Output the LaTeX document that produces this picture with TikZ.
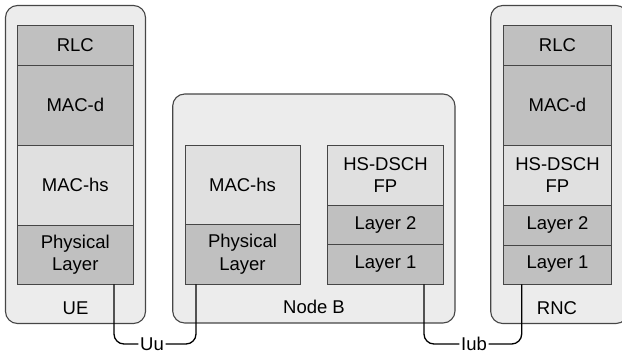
\documentclass[tikz,border=0pt]{standalone}
\usepackage{fontspec}
\setmainfont{Liberation Sans}
\definecolor{outerfill}{RGB}{236,236,236}
\definecolor{darklay}{RGB}{192,192,192}
\definecolor{lightlay}{RGB}{224,224,224}
\definecolor{edgecol}{RGB}{70,70,70}
\tikzset{
  outerbox/.style={draw=edgecol, fill=outerfill, line width=1.1pt, rounded corners=12pt, inner sep=0pt},
  lay/.style={draw=edgecol, line width=0.9pt, inner sep=0pt, align=center, text=black},
  dark/.style={lay, fill=darklay},
  light/.style={lay, fill=lightlay},
  lbl/.style={inner sep=0pt, text=black},
  ifl/.style={inner sep=1.5pt, text=black, fill=white},
  conn/.style={draw=black, line width=1.3pt, rounded corners=10pt}
}
\begin{document}
\begin{tikzpicture}[x=1pt, y=-1pt, font=\fontsize{18.5}{22.3}\selectfont]
\useasboundingbox (0,0) rectangle (622,354);
\clip (0,0) rectangle (622,354);
% outer boxes
\node[outerbox, minimum width=140pt, minimum height=318pt] (ue) at (75.5,164.5) {};
\node[outerbox, minimum width=282.3pt, minimum height=229pt] (nb) at (313.85,208.5) {};
\node[outerbox, minimum width=137.3pt, minimum height=318pt] (rnc) at (559.35,164.5) {};
% UE stack
\node[dark, minimum width=116pt, minimum height=39.5pt] (uerlc) at (75.3,45.25) {RLC};
\node[dark, minimum width=116pt, minimum height=80pt] (uemacd) at (75.3,105) {MAC-d};
\node[light, minimum width=116pt, minimum height=80pt] (uemachs) at (75.3,185) {MAC-hs};
\node[dark, minimum width=116pt, minimum height=59pt] (uephy) at (75.3,254.5) {Physical\\Layer};
\node[lbl] (uelbl) at (75.5,308) {UE};
% Node B stacks
\node[light, minimum width=115pt, minimum height=79.3pt] (nbmachs) at (242.5,184.65) {MAC-hs};
\node[dark, minimum width=115pt, minimum height=59.7pt] (nbphy) at (242.5,254.15) {Physical\\Layer};
\node[light, minimum width=115.6pt, minimum height=60pt] (nbfp) at (385.5,175) {HS-DSCH\\FP};
\node[dark, minimum width=115.6pt, minimum height=39.3pt] (nbl2) at (385.5,224.65) {Layer 2};
\node[dark, minimum width=115.6pt, minimum height=39.7pt] (nbl1) at (385.5,264.15) {Layer 1};
\node[lbl] (nblbl) at (314,306.7) {Node B};
% RNC stack
\node[dark, minimum width=108.4pt, minimum height=39.5pt] (rncrlc) at (557.5,45.25) {RLC};
\node[dark, minimum width=108.4pt, minimum height=80pt] (rncmacd) at (557.5,105) {MAC-d};
\node[light, minimum width=108.4pt, minimum height=60pt] (rncfp) at (557.5,175) {HS-DSCH\\FP};
\node[dark, minimum width=108.4pt, minimum height=40pt] (rncl2) at (557.5,225) {Layer 2};
\node[dark, minimum width=108.4pt, minimum height=39pt] (rncl1) at (557.5,264.5) {Layer 1};
\node[lbl] (rnclbl) at (557,308) {RNC};
% interface labels
\node[ifl] (uu) at (152,344) {Uu};
\node[ifl] (iub) at (474,344) {Iub};
% connectors
\draw[conn] ([xshift=38.7pt]uephy.south) |- (uu.west);
\draw[conn] (uu.east) -| ([xshift=-46.5pt]nbphy.south);
\draw[conn] ([xshift=38.5pt]nbl1.south) |- (iub.west);
\draw[conn] (iub.east) -| ([xshift=-35.8pt]rncl1.south);
\end{tikzpicture}
\end{document}
